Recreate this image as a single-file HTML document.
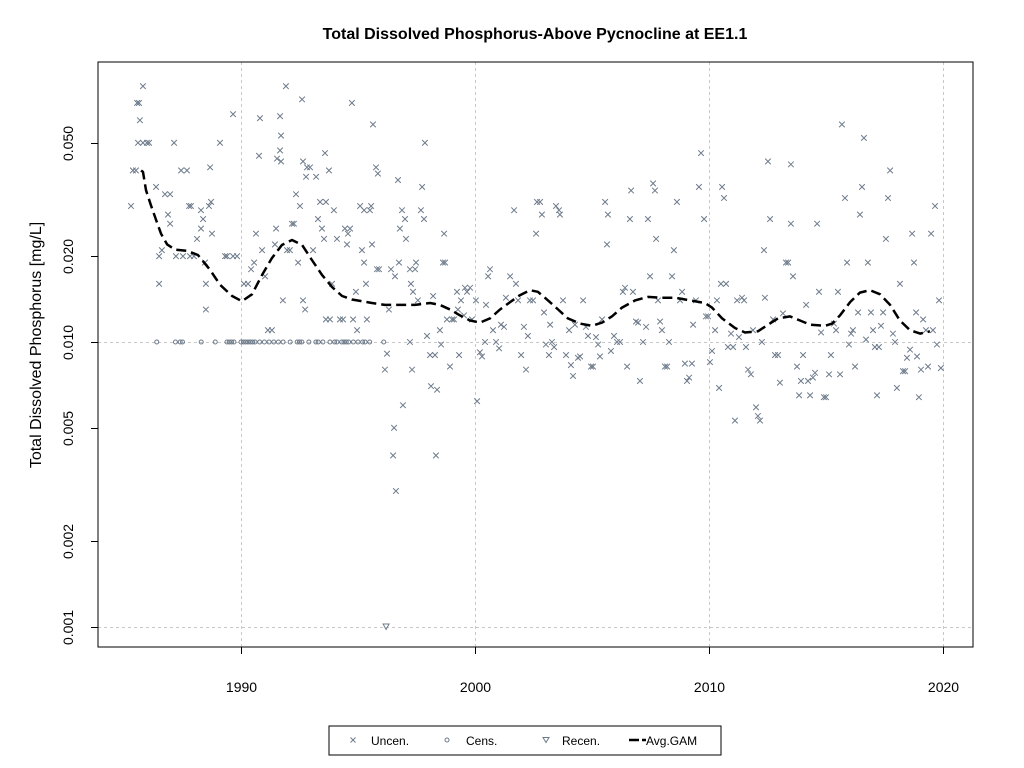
<!DOCTYPE html>
<html><head><meta charset="utf-8">
<style>
html,body{margin:0;padding:0;background:#fff;}
svg{display:block;font-family:"Liberation Sans",Arial,sans-serif;}
</style></head>
<body>
<svg id="chart" width="1024" height="768" viewBox="0 0 1024 768" xmlns="http://www.w3.org/2000/svg">
<text x="535" y="39" text-anchor="middle" font-size="16" font-weight="bold">Total Dissolved Phosphorus-Above Pycnocline at EE1.1</text>
<text transform="translate(41,345) rotate(-90)" text-anchor="middle" font-size="16">Total Dissolved Phosphorus [mg/L]</text>
<g id="grid"></g>
<g id="marks"></g>
<rect x="98" y="62" width="875" height="585" fill="none" stroke="#000" stroke-width="1"/>
<g id="axes"></g>
<g>
<rect x="329" y="726" width="392" height="29" fill="#fff" stroke="#000" stroke-width="1"/>
<g>
<path d="M350.5,737.5 l5,5 M355.5,737.5 l-5,5" stroke="#6e7b8b" stroke-width="1"/>
<text x="371" y="745" font-size="12">Uncen.</text></g>
<g>
<circle cx="447" cy="740" r="2" fill="none" stroke="#6e7b8b" stroke-width="1"/>
<text x="466" y="745" font-size="12">Cens.</text></g>
<g>
<path d="M543,737.5 l6,0 l-3,5 z" fill="none" stroke="#6e7b8b" stroke-width="1"/>
<text x="562" y="745" font-size="12">Recen.</text></g>
<g>
<path d="M629,740 l10,0 M642,740 l4,0" stroke="#000" stroke-width="2.5"/>
<text x="646" y="745" font-size="12">Avg.GAM</text></g>
</g>
</svg>
<script>
const xTicks = [1990, 2000, 2010, 2020];
const yTicks = [0.001, 0.002, 0.005, 0.010, 0.020, 0.050];
const yTickLabels = ["0.001", "0.002", "0.005", "0.010", "0.020", "0.050"];
const yGridValues = [0.001, 0.010];
const uncenPoints = [
[1985.30,0.030],[1985.38,0.040],[1985.51,0.040],[1985.56,0.069],[1985.64,0.069],[1985.60,0.050],[1985.68,0.060],[1985.81,0.079],[1985.81,0.050],[1985.98,0.050],[1986.07,0.050],
[1986.37,0.035],[1986.50,0.020],[1986.50,0.016],[1986.62,0.021],[1986.75,0.033],[1986.88,0.028],[1986.97,0.033],[1986.97,0.026],[1987.14,0.050],[1987.22,0.020],[1987.44,0.040],
[1987.52,0.020],[1987.69,0.040],[1987.78,0.030],[1987.86,0.030],[1987.82,0.020],[1987.99,0.020],[1988.12,0.023],[1988.29,0.029],[1988.29,0.025],[1988.38,0.027],[1988.46,0.019],
[1988.50,0.016],[1988.50,0.013],[1988.63,0.030],[1988.72,0.031],[1988.68,0.041],[1988.76,0.024],[1989.10,0.050],[1989.32,0.020],[1989.40,0.020],[1989.66,0.020],[1989.83,0.020],
[1989.66,0.063],[1990.13,0.016],[1990.30,0.016],[1990.43,0.018],[1990.56,0.019],[1990.64,0.024],[1990.77,0.045],[1990.81,0.061],[1990.90,0.021],[1991.03,0.017],[1991.15,0.011],
[1991.32,0.011],[1991.45,0.022],[1991.50,0.025],[1991.54,0.044],[1991.67,0.062],[1991.67,0.047],[1991.71,0.043],[1991.71,0.053],[1991.79,0.014],[1991.92,0.079],[1991.97,0.021],
[1992.09,0.021],[1992.18,0.026],[1992.26,0.026],[1992.35,0.033],[1992.44,0.019],[1992.52,0.030],[1992.61,0.071],[1992.65,0.014],[1992.65,0.043],[1992.74,0.013],[1992.78,0.038],
[1992.82,0.041],[1992.95,0.041],[1993.08,0.021],[1993.21,0.038],[1993.29,0.027],[1993.38,0.031],[1993.46,0.025],[1993.55,0.023],[1993.59,0.046],[1993.63,0.031],[1993.63,0.012],
[1993.76,0.040],[1993.80,0.012],[1993.89,0.016],[1993.97,0.029],[1994.10,0.023],[1994.23,0.012],[1994.36,0.012],[1994.44,0.025],[1994.53,0.022],[1994.57,0.024],[1994.66,0.025],
[1994.74,0.069],[1994.79,0.012],[1994.91,0.015],[1994.96,0.011],[1995.09,0.030],[1995.17,0.021],[1995.26,0.029],[1995.26,0.019],[1995.34,0.016],[1995.38,0.012],[1995.51,0.029],
[1995.56,0.030],[1995.60,0.022],[1995.64,0.058],[1995.77,0.041],[1995.85,0.039],[1995.81,0.018],[1995.90,0.018],[1996.15,0.0080],[1996.24,0.0091],[1996.32,0.013],[1996.41,0.018],
[1996.50,0.0040],[1996.54,0.0050],[1996.58,0.017],[1996.62,0.0030],[1996.71,0.037],[1996.75,0.019],[1996.79,0.025],[1996.88,0.029],[1996.92,0.0060],[1997.01,0.027],[1997.05,0.023],
[1997.22,0.018],[1997.22,0.010],[1997.26,0.016],[1997.31,0.0080],[1997.35,0.015],[1997.44,0.018],[1997.48,0.019],[1997.56,0.014],[1997.69,0.029],[1997.74,0.035],[1997.82,0.027],
[1997.86,0.050],[1997.95,0.0105],[1998.08,0.009],[1998.12,0.0070],[1998.21,0.0145],[1998.29,0.009],[1998.33,0.004],[1998.38,0.0068],[1998.50,0.011],[1998.55,0.0098],[1998.63,0.019],
[1998.68,0.024],[1998.72,0.019],[1998.80,0.012],[1998.93,0.0082],[1999.02,0.012],[1999.10,0.012],[1999.23,0.015],[1999.27,0.013],[1999.32,0.009],[1999.40,0.014],[1999.53,0.0124],
[1999.57,0.0155],[1999.66,0.015],[1999.79,0.0155],[1999.87,0.012],[2000.04,0.014],[2000.09,0.0062],[2000.21,0.0092],[2000.30,0.0089],[2000.43,0.010],[2000.47,0.0135],[2000.56,0.017],
[2000.64,0.018],[2000.77,0.011],[2000.90,0.010],[2001.03,0.0095],[2001.11,0.0115],[2001.24,0.0113],[2001.32,0.0143],[2001.50,0.017],[2001.67,0.029],[2001.75,0.016],[2001.84,0.014],
[2001.97,0.009],[2002.09,0.0113],[2002.18,0.0080],[2002.26,0.0105],[2002.35,0.014],[2002.48,0.014],[2002.61,0.024],[2002.65,0.031],[2002.78,0.031],[2002.86,0.028],[2002.95,0.0127],
[2003.03,0.0098],[2003.16,0.009],[2003.21,0.0115],[2003.29,0.010],[2003.38,0.0096],[2003.46,0.030],[2003.59,0.029],[2003.63,0.028],[2003.76,0.014],[2003.89,0.009],[2004.02,0.011],
[2004.10,0.0083],[2004.19,0.0076],[2004.27,0.0115],[2004.40,0.0088],[2004.49,0.0089],[2004.62,0.014],[2004.74,0.0113],[2004.83,0.0105],[2004.96,0.0082],[2005.04,0.0082],[2005.17,0.0104],
[2005.26,0.0098],[2005.34,0.0089],[2005.43,0.012],[2005.56,0.031],[2005.64,0.022],[2005.68,0.028],[2005.81,0.0093],[2005.94,0.0105],[2006.07,0.010],[2006.20,0.010],[2006.32,0.015],
[2006.41,0.0155],[2006.50,0.0082],[2006.62,0.027],[2006.67,0.034],[2006.75,0.015],[2006.88,0.0118],[2006.97,0.0117],[2007.05,0.0073],[2007.18,0.010],[2007.31,0.0113],[2007.39,0.027],
[2007.48,0.017],[2007.61,0.036],[2007.69,0.034],[2007.74,0.023],[2007.82,0.014],[2007.91,0.0118],[2007.99,0.011],[2008.12,0.0082],[2008.21,0.0082],[2008.29,0.010],[2008.42,0.017],
[2008.50,0.021],[2008.63,0.031],[2008.76,0.014],[2008.85,0.015],[2008.97,0.0084],[2009.06,0.0073],[2009.15,0.0075],[2009.27,0.0084],[2009.32,0.0115],[2009.44,0.014],[2009.57,0.035],
[2009.66,0.046],[2009.79,0.027],[2009.87,0.0123],[2009.96,0.0123],[2010.04,0.0085],[2010.13,0.0093],[2010.26,0.011],[2010.34,0.014],[2010.43,0.0069],[2010.51,0.016],[2010.56,0.035],
[2010.64,0.032],[2010.73,0.016],[2010.81,0.0096],[2010.94,0.0107],[2011.03,0.0096],[2011.11,0.0053],[2011.20,0.014],[2011.28,0.0104],[2011.41,0.0143],[2011.50,0.014],[2011.58,0.0096],
[2011.67,0.0080],[2011.79,0.0077],[2011.88,0.011],[2012.01,0.0059],[2012.09,0.0055],[2012.18,0.0053],[2012.26,0.010],[2012.35,0.021],[2012.39,0.0143],[2012.52,0.043],[2012.61,0.027],
[2012.74,0.012],[2012.82,0.009],[2012.95,0.009],[2013.03,0.0072],[2013.16,0.0126],[2013.29,0.019],[2013.38,0.019],[2013.50,0.042],[2013.50,0.026],[2013.59,0.017],[2013.76,0.0082],
[2013.85,0.0065],[2013.93,0.0073],[2014.02,0.009],[2014.15,0.0135],[2014.23,0.0073],[2014.32,0.0065],[2014.44,0.0075],[2014.53,0.0078],[2014.62,0.026],[2014.70,0.015],[2014.79,0.0108],
[2014.91,0.0064],[2015.00,0.0064],[2015.13,0.0077],[2015.21,0.009],[2015.34,0.0116],[2015.43,0.011],[2015.51,0.015],[2015.60,0.0077],[2015.68,0.058],[2015.81,0.032],[2015.90,0.019],
[2015.98,0.0098],[2016.07,0.0107],[2016.15,0.011],[2016.24,0.0082],[2016.37,0.0127],[2016.45,0.028],[2016.54,0.035],[2016.62,0.052],[2016.71,0.0102],[2016.79,0.019],[2016.92,0.0127],
[2017.01,0.011],[2017.09,0.0096],[2017.18,0.0065],[2017.26,0.0096],[2017.35,0.0114],[2017.44,0.0127],[2017.56,0.023],[2017.65,0.032],[2017.74,0.040],[2017.86,0.0107],[2017.95,0.010],
[2018.03,0.0069],[2018.16,0.016],[2018.29,0.0079],[2018.38,0.0079],[2018.46,0.0088],[2018.59,0.0094],[2018.68,0.024],[2018.76,0.019],[2018.85,0.0127],[2018.89,0.0089],[2018.97,0.0064],
[2019.06,0.008],[2019.15,0.012],[2019.27,0.011],[2019.36,0.0082],[2019.49,0.024],[2019.57,0.011],[2019.66,0.030],[2019.74,0.0098],[2019.83,0.014],[2019.91,0.0081]
];
const censYears = [1986.4,1987.2,1987.4,1987.5,1988.3,1988.9,1989.4,1989.5,1989.6,1989.7,1990.0,1990.1,1990.2,1990.3,1990.4,1990.5,1990.6,1990.8,1991.0,1991.2,1991.4,1991.6,1991.8,1992.1,1992.4,1992.5,1992.6,1992.9,1993.2,1993.3,1993.5,1993.8,1994.0,1994.1,1994.3,1994.4,1994.5,1994.6,1994.8,1995.0,1995.2,1995.3,1995.5,1996.1];
const censValue = 0.010;
const recenYears = [1996.2];
const recenValues = [0.001];
const gamYears = [1985.73,1985.81,1985.94,1986.15,1986.37,1986.58,1986.84,1987.18,1987.69,1988.16,1988.68,1989.10,1989.62,1990.04,1990.47,1990.90,1991.32,1991.75,1992.18,1992.61,1993.03,1993.46,1993.89,1994.32,1994.74,1995.17,1995.60,1996.15,1996.79,1997.44,1998.08,1998.50,1998.93,1999.36,1999.79,2000.21,2000.64,2001.07,2001.50,2001.92,2002.35,2002.69,2003.12,2003.55,2003.97,2004.49,2005.00,2005.43,2005.85,2006.28,2006.84,2007.39,2007.91,2008.55,2009.19,2009.83,2010.13,2010.56,2011.11,2011.54,2012.09,2012.52,2012.95,2013.46,2013.89,2014.32,2014.96,2015.26,2015.60,2016.03,2016.45,2016.88,2017.31,2017.74,2018.16,2018.59,2019.02,2019.44];
const gamValues = [0.040,0.0395,0.0341,0.0302,0.0268,0.0240,0.022,0.0211,0.0209,0.0202,0.0179,0.0159,0.0145,0.0139,0.0147,0.0172,0.0197,0.0219,0.0228,0.0219,0.0194,0.0172,0.0156,0.0145,0.0141,0.0139,0.0137,0.0135,0.0135,0.0135,0.0137,0.0135,0.0130,0.0124,0.0119,0.0117,0.0121,0.0130,0.0138,0.0146,0.0152,0.0150,0.0140,0.0130,0.0121,0.0116,0.0114,0.0117,0.0123,0.0132,0.0140,0.0144,0.0143,0.0143,0.0140,0.0137,0.0132,0.0121,0.0112,0.0108,0.0109,0.0115,0.0121,0.0123,0.0119,0.0115,0.0114,0.0116,0.0124,0.0138,0.0149,0.0152,0.0147,0.0135,0.0119,0.0110,0.0107,0.0109];

const NS = "http://www.w3.org/2000/svg";
const PL = 98, PR = 973, PT = 62, PB = 647;
const X0 = 1990, XPX = 241, XSCALE = 23.4;
const YREF = 342, DECADE = 285;
function xScale(yr){ return XPX + (yr - X0) * XSCALE; }
function yScale(v){ return YREF - Math.log10(v / 0.01) * DECADE; }
function mk(tag, attrs, parent){ const e = document.createElementNS(NS, tag); for (const k in attrs) e.setAttribute(k, attrs[k]); parent.appendChild(e); return e; }
const grid = document.getElementById('grid');
const marks = document.getElementById('marks');
const axes = document.getElementById('axes');
const COL = "#6e7b8b";

xTicks.forEach(t => {
  const x = Math.round(xScale(t)) + 0.5;
  const g = mk('line', {x1:x, x2:x, y1:PT, y2:PB, stroke:'#c8c8c8', 'stroke-dasharray':'3,3'}, grid);
  
  
  const tk = mk('line', {x1:x, x2:x, y1:PB, y2:PB+7, stroke:'#000'}, axes);
  
  
  const lb = mk('text', {x:x, y:692, 'text-anchor':'middle', 'font-size':'14'}, axes);
  lb.textContent = t;
  
  
});
yGridValues.forEach(t => {
  const y = Math.round(yScale(t)) + 0.5;
  const g = mk('line', {x1:PL, x2:PR, y1:y, y2:y, stroke:'#c8c8c8', 'stroke-dasharray':'3,3'}, grid);
  
  
});
yTicks.forEach((t, i) => {
  const y = Math.round(yScale(t)) + 0.5;
  const tk = mk('line', {x1:PL-7, x2:PL, y1:y, y2:y, stroke:'#000'}, axes);
  
  
  const lb = mk('text', {transform:`translate(73,${y}) rotate(-90)`, 'text-anchor':'middle', 'font-size':'14'}, axes);
  lb.textContent = yTickLabels[i];
  
  
});

censYears.forEach(yr => {
  const c = mk('circle', {cx:xScale(yr), cy:yScale(censValue), r:2, fill:'none', stroke:COL, 'stroke-width':1}, marks);
  
  
});
recenYears.forEach((yr, i) => {
  const x = xScale(yr), y = yScale(recenValues[i]);
  const p = mk('path', {d:`M${x-3},${y-3} L${x+3},${y-3} L${x},${y+2.5} Z`, fill:'none', stroke:COL, 'stroke-width':1}, marks);
  
  
});
uncenPoints.forEach(p => {
  const x = xScale(p[0]), y = yScale(p[1]);
  const m = mk('path', {d:`M${x-2.8},${y-2.8} L${x+2.8},${y+2.8} M${x+2.8},${y-2.8} L${x-2.8},${y+2.8}`, stroke:COL, 'stroke-width':1}, marks);
  
  
});
const d = gamYears.map((yr, i) => (i ? 'L' : 'M') + xScale(yr).toFixed(1) + ',' + yScale(gamValues[i]).toFixed(1)).join(' ');
const gl = mk('path', {d:d, fill:'none', stroke:'#000', 'stroke-width':2.5, 'stroke-dasharray':'10,5', 'stroke-linejoin':'round'}, marks);


</script>
</body></html>
